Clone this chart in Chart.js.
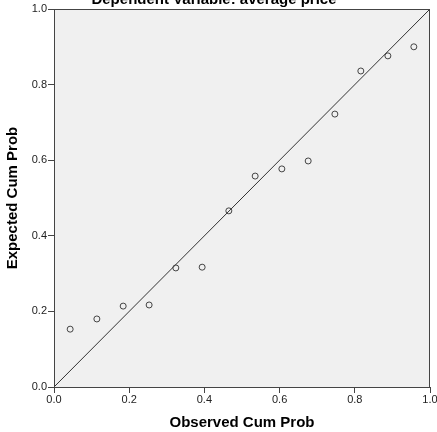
<!DOCTYPE html>
<html>
<head>
<meta charset="utf-8">
<script src="https://cdn.jsdelivr.net/npm/chart.js@4"></script>
<style>
  html, body { margin: 0; padding: 0; background: #fff; }
</style>
</head>
<body>
<canvas id="myChart" width="437" height="432"></canvas>
<script>
// observed vs expected cumulative probability
const observed = [0.043, 0.114, 0.184, 0.253, 0.324, 0.394, 0.465, 0.535, 0.606, 0.676, 0.747, 0.816, 0.888, 0.957];
const expected = [0.153, 0.180, 0.214, 0.217, 0.315, 0.317, 0.466, 0.558, 0.577, 0.598, 0.722, 0.836, 0.876, 0.900];
const refLine = [0, 1];

const chartTitle = 'Dependent Variable: average price';
const xTitle = 'Observed Cum Prob';
const yTitle = 'Expected Cum Prob';

const points = observed.map((x, i) => ({ x: x, y: expected[i] }));
const diag = refLine.map(v => ({ x: v, y: v }));

const frame = {
    id: 'frame',
    beforeDraw(chart) {
        const a = chart.chartArea;
        const ctx = chart.ctx;
        ctx.save();
        ctx.fillStyle = '#f0f0f0';
        ctx.fillRect(a.left, a.top, a.right - a.left, a.bottom - a.top);
        ctx.restore();
    },
    afterDraw(chart) {
        const a = chart.chartArea;
        const ctx = chart.ctx;
        ctx.save();
        ctx.strokeStyle = '#444';
        ctx.lineWidth = 1;
        ctx.strokeRect(a.left + 0.5, a.top + 0.5, a.right - a.left - 1, a.bottom - a.top);
        // title, clipped at the top like the original
        ctx.fillStyle = '#000';
        ctx.font = 'bold 15px "Liberation Sans", Arial, sans-serif';
        ctx.textAlign = 'center';
        ctx.textBaseline = 'alphabetic';
        ctx.fillText(chartTitle, 214, 3.5);
        ctx.restore();
    }
};

const tickFont = { family: '"Liberation Sans", Arial, sans-serif', size: 11 };
const titleFont = { family: '"Liberation Sans", Arial, sans-serif', size: 15, weight: 'bold' };

new Chart(document.getElementById('myChart'), {
    type: 'scatter',
    data: {
        datasets: [{
            data: diag,
            showLine: true,
            borderColor: '#333',
            borderWidth: 1,
            pointRadius: 0
        }, {
            data: points,
            showLine: false,
            pointRadius: 3,
            pointBorderWidth: 1,
            pointBorderColor: '#444',
            pointBackgroundColor: 'rgba(0,0,0,0)'
        }]
    },
    options: {
        responsive: false,
        animation: false,
        layout: { padding: { top: 9, right: 7, left: 0, bottom: 0 } },
        plugins: { legend: { display: false }, tooltip: { enabled: false } },
        scales: {
            x: {
                type: 'linear', min: 0, max: 1,
                border: { color: '#444', width: 1 },
                grid: { drawOnChartArea: false, tickLength: 6, color: '#444' },
                ticks: { stepSize: 0.2, padding: 0, color: '#222', font: tickFont, maxRotation: 0,
                    callback: v => v.toFixed(1) },
                title: { display: true, text: xTitle, color: '#000', font: titleFont, padding: { top: 0, bottom: 0 } },
                afterFit(scale) { scale.height = 45; scale.paddingLeft = 0; scale.paddingRight = 0; }
            },
            y: {
                type: 'linear', min: 0, max: 1,
                border: { color: '#444', width: 1 },
                grid: { drawOnChartArea: false, tickLength: 6, color: '#444' },
                ticks: { stepSize: 0.2, padding: 1, color: '#222', font: tickFont,
                    callback: v => v.toFixed(1) },
                title: { display: true, text: yTitle, color: '#000', font: titleFont, padding: { top: 4, bottom: 0 } },
                afterFit(scale) { scale.width = 54; scale.paddingTop = 0; scale.paddingBottom = 0; }
            }
        }
    },
    plugins: [frame]
});
</script>
</body>
</html>
